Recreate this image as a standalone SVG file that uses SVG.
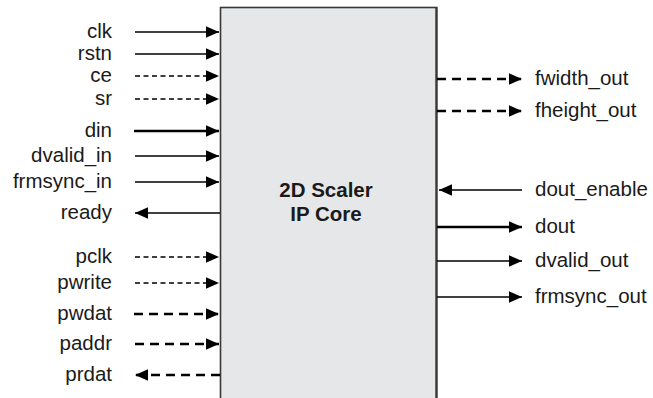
<svg xmlns="http://www.w3.org/2000/svg" width="653" height="398" viewBox="0 0 653 398">
<style>
.lbl{font-family:"Liberation Sans",Arial,sans-serif;font-size:20.5px;fill:#1a1a1a}
.l{text-anchor:end}
.title{font-family:"Liberation Sans",Arial,sans-serif;font-size:20.5px;font-weight:bold;fill:#1a1a1a;text-anchor:middle}
.s{stroke:#000;stroke-width:1.3;fill:none}
.t{stroke:#000;stroke-width:2.6;fill:none}
.d{stroke:#000;stroke-width:1.3;fill:none;stroke-dasharray:5 3.5}
.D{stroke:#000;stroke-width:2.6;fill:none;stroke-dasharray:9 6}
</style>
<defs>
<marker id="ah" markerUnits="userSpaceOnUse" markerWidth="14" markerHeight="14" refX="13" refY="7" orient="auto">
<path d="M0,1.2 L13,7 L0,12.8 z" fill="#000"/>
</marker>
</defs>
<g id="core">
<rect x="220.5" y="7.5" width="216" height="400" fill="#e6e7e8" stroke="#383838" stroke-width="1.6"/>
<line x1="436.5" y1="7" x2="436.5" y2="398" stroke="#383838" stroke-width="2.2"/>
<text class="title" x="326" y="197">2D Scaler</text>
<text class="title" x="326" y="221">IP Core</text>
</g>
<g id="connectors">
<line class="s" x1="135" y1="32" x2="219" y2="32" marker-end="url(#ah)"/>
<line class="s" x1="135" y1="54" x2="219" y2="54" marker-end="url(#ah)"/>
<line class="d" x1="135" y1="76" x2="219" y2="76" marker-end="url(#ah)"/>
<line class="d" x1="135" y1="99" x2="219" y2="99" marker-end="url(#ah)"/>
<line class="t" x1="134" y1="131" x2="219" y2="131" marker-end="url(#ah)"/>
<line class="s" x1="135" y1="156" x2="219" y2="156" marker-end="url(#ah)"/>
<line class="s" x1="135" y1="182" x2="219" y2="182" marker-end="url(#ah)"/>
<line class="s" x1="220" y1="213" x2="135" y2="213" marker-end="url(#ah)"/>
<line class="d" x1="135" y1="257" x2="219" y2="257" marker-end="url(#ah)"/>
<line class="d" x1="135" y1="283" x2="219" y2="283" marker-end="url(#ah)"/>
<line class="D" x1="134" y1="314" x2="219" y2="314" marker-end="url(#ah)"/>
<line class="D" x1="135" y1="344" x2="219" y2="344" marker-end="url(#ah)"/>
<line class="D" x1="220" y1="375" x2="135" y2="375" marker-end="url(#ah)"/>
<line class="D" x1="437" y1="79" x2="522" y2="79" marker-end="url(#ah)"/>
<line class="D" x1="437" y1="111" x2="522" y2="111" marker-end="url(#ah)"/>
<line class="s" x1="522" y1="190" x2="439" y2="190" marker-end="url(#ah)"/>
<line class="t" x1="437" y1="227" x2="522" y2="227" marker-end="url(#ah)"/>
<line class="s" x1="437" y1="261" x2="522" y2="261" marker-end="url(#ah)"/>
<line class="s" x1="437" y1="297" x2="522" y2="297" marker-end="url(#ah)"/>
</g>
<g id="labels">
<text class="lbl l" x="112" y="38">clk</text>
<text class="lbl l" x="112" y="60">rstn</text>
<text class="lbl l" x="112" y="82">ce</text>
<text class="lbl l" x="112" y="105">sr</text>
<text class="lbl l" x="112" y="137">din</text>
<text class="lbl l" x="112" y="162">dvalid_in</text>
<text class="lbl l" x="112" y="188">frmsync_in</text>
<text class="lbl l" x="112" y="219">ready</text>
<text class="lbl l" x="112" y="263">pclk</text>
<text class="lbl l" x="112" y="289">pwrite</text>
<text class="lbl l" x="112" y="320">pwdat</text>
<text class="lbl l" x="112" y="350">paddr</text>
<text class="lbl l" x="112" y="381">prdat</text>
<text class="lbl" x="535" y="85">fwidth_out</text>
<text class="lbl" x="535" y="117">fheight_out</text>
<text class="lbl" x="535" y="196">dout_enable</text>
<text class="lbl" x="535" y="233">dout</text>
<text class="lbl" x="535" y="267">dvalid_out</text>
<text class="lbl" x="535" y="303">frmsync_out</text>
</g>
</svg>
